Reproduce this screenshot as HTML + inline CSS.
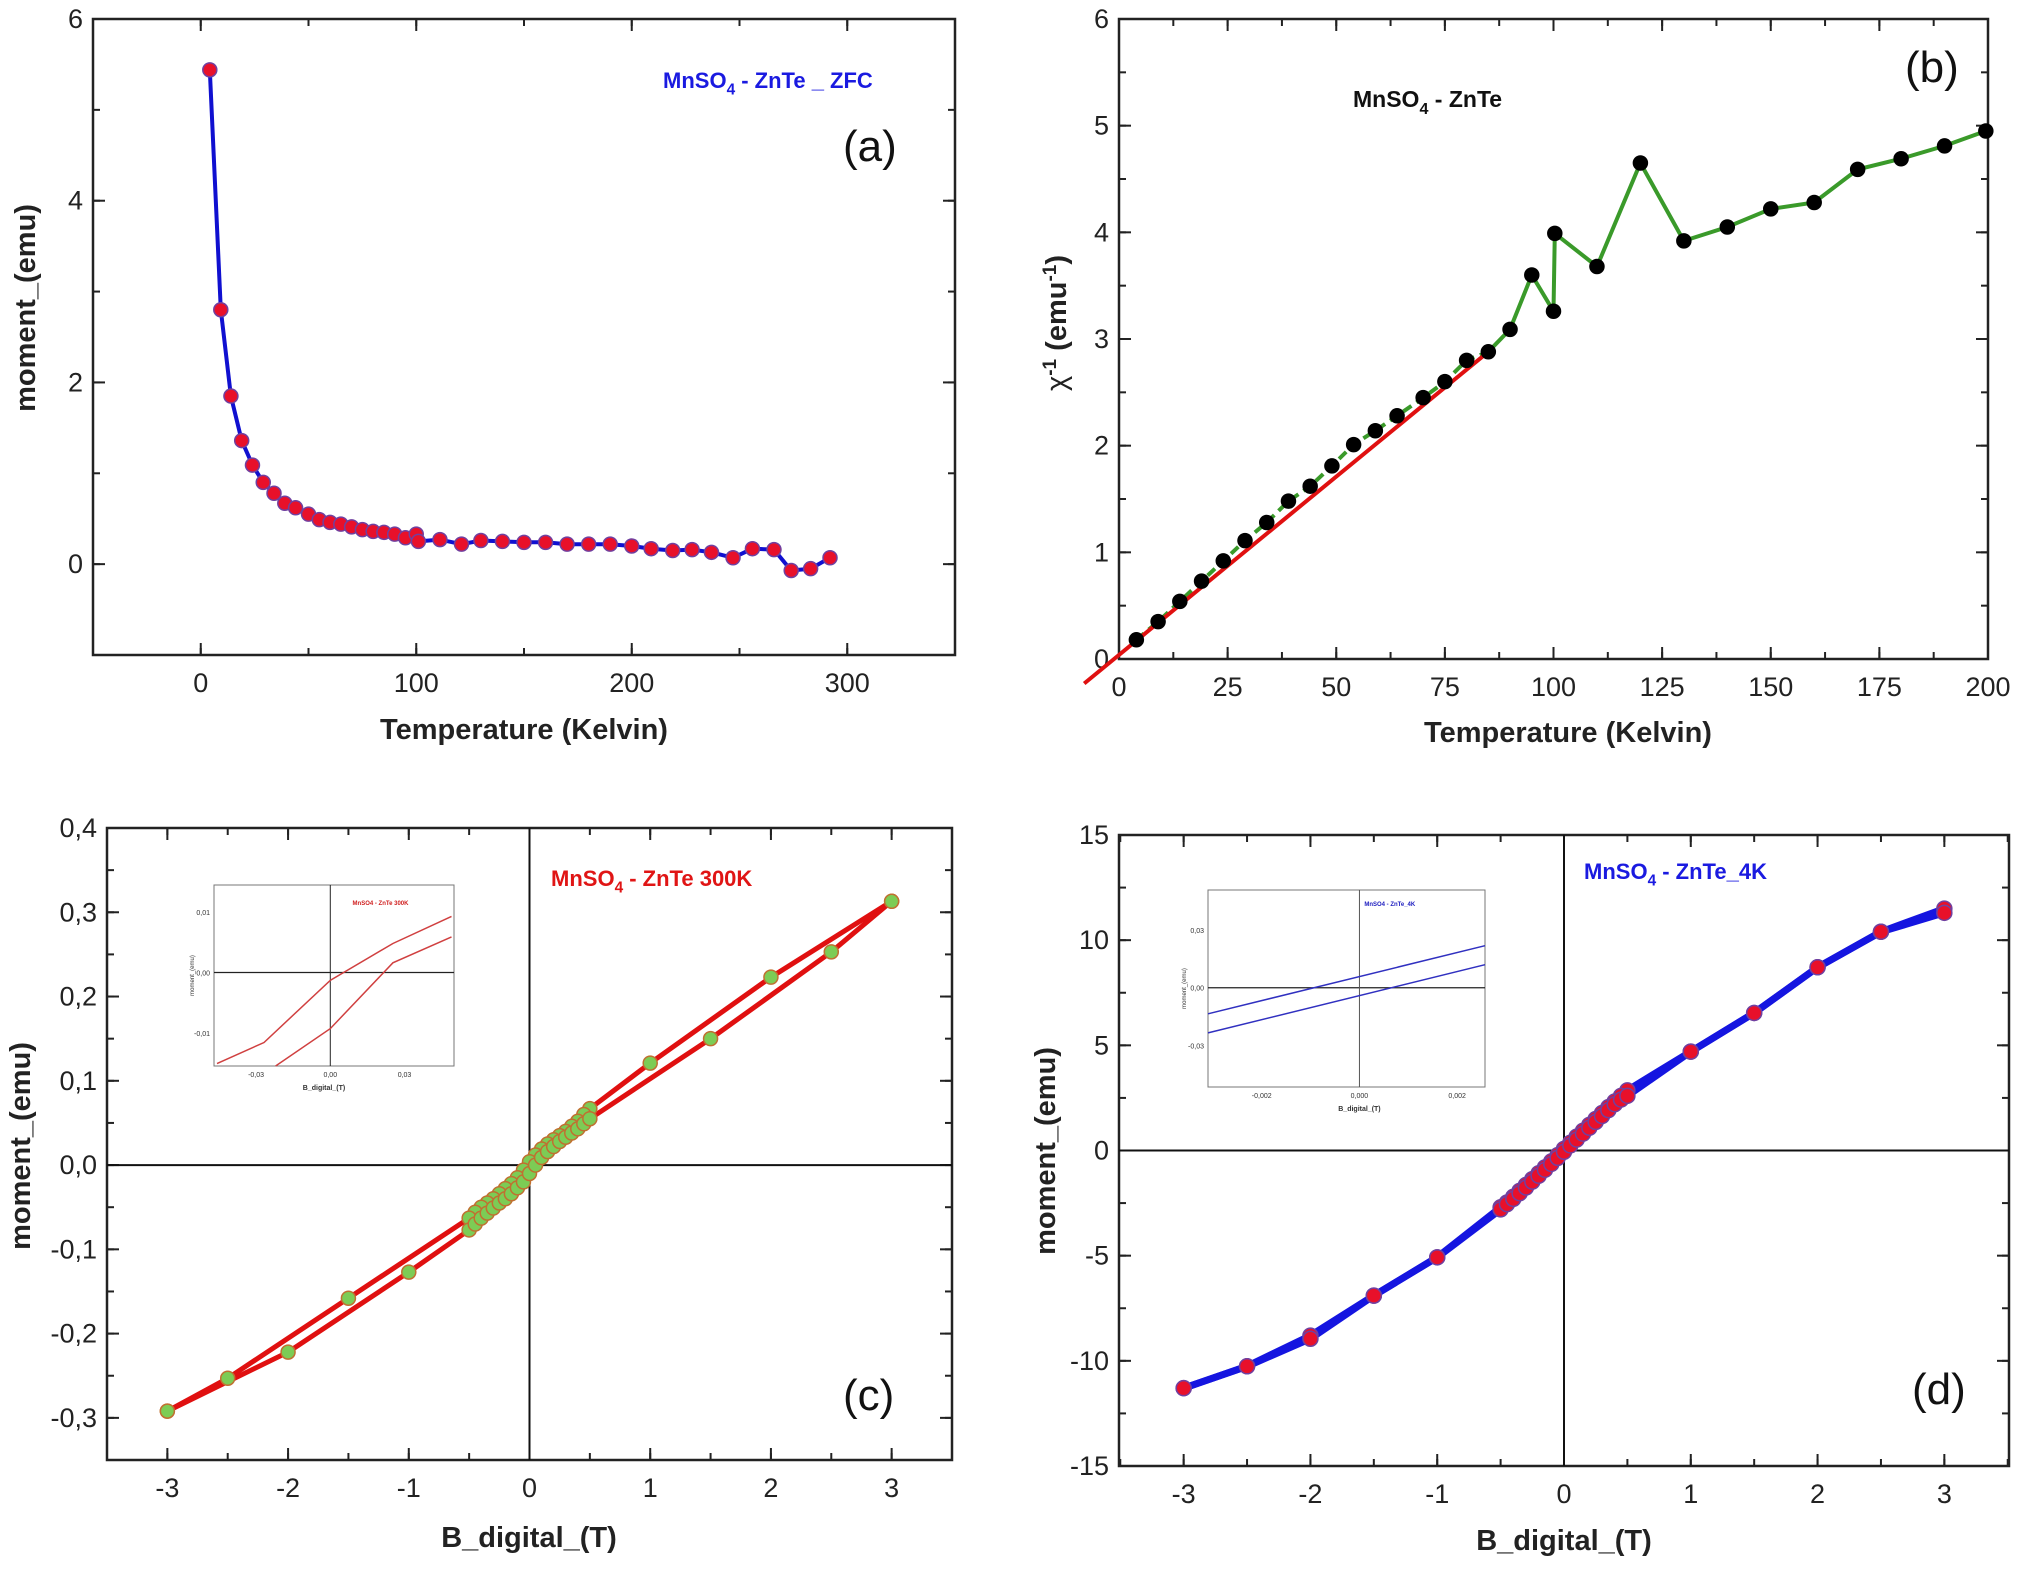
<!DOCTYPE html>
<html><head><meta charset="utf-8"><style>
html,body{margin:0;padding:0;background:#fff;}
svg{display:block;font-family:"Liberation Sans",Arial,sans-serif;}
</style></head><body>
<svg id="fig" width="2034" height="1575" viewBox="0 0 2034 1575" xmlns="http://www.w3.org/2000/svg"></svg>
<script>
// ---- Panel (a) data ----
const aT=[4.2,9.3,14,19,24,29,34,39,44,50,55,60,65,70,75,80,85,90,95,100,101,111,121,130,140,150,160,170,180,190,200,209,219,228,237,247,256,266,274,283,292];
const aM=[5.44,2.8,1.85,1.36,1.09,0.9,0.78,0.67,0.62,0.55,0.49,0.46,0.44,0.41,0.38,0.36,0.35,0.33,0.29,0.33,0.25,0.27,0.22,0.26,0.25,0.24,0.24,0.22,0.22,0.22,0.2,0.17,0.15,0.16,0.13,0.07,0.17,0.16,-0.07,-0.05,0.07];
const aXTicks=[0,100,200,300];
const aYTicks=[0,2,4,6];
// ---- Panel (b) data ----
const bT=[4,9,14,19,24,29,34,39,44,49,54,59,64,70,75,80,85,90,95,100,100.3,110,120,130,140,150,160,170,180,190,199.5];
const bChi=[0.18,0.35,0.54,0.73,0.92,1.11,1.28,1.48,1.62,1.81,2.01,2.14,2.28,2.45,2.6,2.8,2.88,3.09,3.6,3.26,3.99,3.68,4.65,3.92,4.05,4.22,4.28,4.59,4.69,4.81,4.95];
const bFitT=[-8,85];
const bFitChi=[-0.23,2.88];
const bXTicks=[0,25,50,75,100,125,150,175,200];
const bYTicks=[0,1,2,3,4,5,6];
// ---- Panel (c) data ----
const cDescB=[3,2,1,0.5,0.45,0.4,0.35,0.3,0.25,0.2,0.15,0.1,0.05,0,-0.05,-0.1,-0.15,-0.2,-0.25,-0.3,-0.35,-0.4,-0.45,-0.5,-1.5,-2.5,-3];
const cDescM=[0.313,0.223,0.121,0.067,0.060,0.052,0.046,0.040,0.035,0.030,0.025,0.019,0.012,0.004,-0.006,-0.015,-0.022,-0.028,-0.034,-0.040,-0.045,-0.050,-0.056,-0.063,-0.158,-0.253,-0.292];
const cAscB=[-3,-2,-1,-0.5,-0.45,-0.4,-0.35,-0.3,-0.25,-0.2,-0.15,-0.1,-0.05,0,0.05,0.1,0.15,0.2,0.25,0.3,0.35,0.4,0.45,0.5,1.5,2.5,3];
const cAscM=[-0.292,-0.222,-0.127,-0.077,-0.070,-0.063,-0.057,-0.051,-0.045,-0.040,-0.034,-0.027,-0.020,-0.010,0.000,0.009,0.016,0.022,0.028,0.033,0.038,0.043,0.049,0.055,0.150,0.253,0.313];
const cXTicks=[-3,-2,-1,0,1,2,3];
const cYTicks=[-0.3,-0.2,-0.1,0,0.1,0.2,0.3,0.4];
const cInUpB=[-0.0458,-0.0268,0,0.0253,0.049];
const cInUpM=[-0.0151,-0.0116,-0.0013,0.0048,0.0093];
const cInLoB=[-0.0221,0,0.0253,0.049];
const cInLoM=[-0.0155,-0.0093,0.0016,0.0059];
// ---- Panel (d) data ----
const dDescB=[3,2.5,2,1.5,1,0.5,0.45,0.4,0.35,0.3,0.25,0.2,0.15,0.1,0.05,0,-0.05,-0.1,-0.15,-0.2,-0.25,-0.3,-0.35,-0.4,-0.45,-0.5,-1,-1.5,-2,-2.5,-3];
const dDescM=[11.5,10.4,8.71,6.54,4.7,2.86,2.6,2.33,2.06,1.78,1.5,1.22,0.94,0.66,0.37,0.08,-0.22,-0.52,-0.8,-1.08,-1.36,-1.64,-1.92,-2.2,-2.47,-2.7,-5.08,-6.9,-8.8,-10.26,-11.3];
const dAscB=[-3,-2.5,-2,-1.5,-1,-0.5,-0.45,-0.4,-0.35,-0.3,-0.25,-0.2,-0.15,-0.1,-0.05,0,0.05,0.1,0.15,0.2,0.25,0.3,0.35,0.4,0.45,0.5,1,1.5,2,2.5,3];
const dAscM=[-11.3,-10.26,-8.95,-6.9,-5.08,-2.8,-2.55,-2.3,-2.03,-1.76,-1.48,-1.2,-0.92,-0.64,-0.35,-0.06,0.24,0.52,0.8,1.08,1.36,1.64,1.92,2.2,2.42,2.6,4.7,6.54,8.71,10.4,11.3];
const dXTicks=[-3,-2,-1,0,1,2,3];
const dYTicks=[-15,-10,-5,0,5,10,15];
const dInUpB=[-0.0031,0.00257];
const dInUpM=[-0.0136,0.0219];
const dInLoB=[-0.0031,0.00257];
const dInLoM=[-0.0235,0.0120];

const NS="http://www.w3.org/2000/svg";
const svg=document.getElementById('fig');
function mk(parent,tag,attrs,text){const e=document.createElementNS(NS,tag);for(const k in attrs)e.setAttribute(k,attrs[k]);if(text!==undefined)e.textContent=text;parent.appendChild(e);return e;}
function scale(d0,d1,p0,p1){return v=>p0+(v-d0)/(d1-d0)*(p1-p0);}
function fmt(v,dec,comma){let s=v.toFixed(dec);if(comma)s=s.replace('.',',');return s;}

function panel(o){
  const g=mk(svg,'g',{});
  
  
  const X=scale(o.xr[0],o.xr[1],o.L,o.R), Y=scale(o.yr[0],o.yr[1],o.B,o.T);
  const fr=mk(g,'rect',{x:o.L,y:o.T,width:o.R-o.L,height:o.B-o.T,fill:'none',stroke:'#222','stroke-width':2.5});
  
  
  const tl=12, ml=7;
  o.xt.forEach(v=>{const x=X(v);
    mk(g,'line',{x1:x,x2:x,y1:o.B,y2:o.B-tl,stroke:'#222','stroke-width':2});
    mk(g,'line',{x1:x,x2:x,y1:o.T,y2:o.T+tl,stroke:'#222','stroke-width':2});
    const t=mk(g,'text',{x:x,y:o.B+37,'text-anchor':'middle','font-size':27,fill:'#222'},fmt(v,o.xdec||0,o.comma));
    
    
  });
  const xs=o.xt[1]-o.xt[0];
  for(let v=o.xt[0]-xs/2; v<=o.xr[1]; v+=xs/2){ if(v<o.xr[0])continue; const x=X(v);
    mk(g,'line',{x1:x,x2:x,y1:o.B,y2:o.B-ml,stroke:'#222','stroke-width':2});
    mk(g,'line',{x1:x,x2:x,y1:o.T,y2:o.T+ml,stroke:'#222','stroke-width':2});}
  o.yt.forEach(v=>{const y=Y(v);
    mk(g,'line',{x1:o.L,x2:o.L+tl,y1:y,y2:y,stroke:'#222','stroke-width':2});
    mk(g,'line',{x1:o.R,x2:o.R-tl,y1:y,y2:y,stroke:'#222','stroke-width':2});
    const t=mk(g,'text',{x:o.L-10,y:y+9,'text-anchor':'end','font-size':27,fill:'#222'},fmt(v,o.ydec||0,o.comma));
    
    
  });
  const ys=o.yt[1]-o.yt[0];
  for(let v=o.yt[0]-ys/2; v<=o.yr[1]; v+=ys/2){ if(v<o.yr[0])continue; const y=Y(v);
    mk(g,'line',{x1:o.L,x2:o.L+ml,y1:y,y2:y,stroke:'#222','stroke-width':2});
    mk(g,'line',{x1:o.R,x2:o.R-ml,y1:y,y2:y,stroke:'#222','stroke-width':2});}
  const xt=mk(g,'text',{x:o.xtx,y:o.xty,'text-anchor':'middle','font-size':29,'font-weight':'bold',fill:'#222'},o.xtitle);
  
  
  const yt=mk(g,'text',{transform:`translate(${o.ytx},${o.yty}) rotate(-90)`,'text-anchor':'middle','font-size':29,'font-weight':'bold',fill:'#222'});
  
  
  o.ytitle(yt);
  return {g,X,Y};
}
function path(g,X,Y,xs,ys,attrs){let d='';xs.forEach((x,i)=>{d+=(i?'L':'M')+X(x).toFixed(1)+','+Y(ys[i]).toFixed(1);});return mk(g,'path',Object.assign({d:d,fill:'none'},attrs));}
function dots(g,X,Y,xs,ys,r,fill,stroke,name){xs.forEach((x,i)=>{const c=mk(g,'circle',{cx:X(x),cy:Y(ys[i]),r:r,fill:fill,stroke:stroke,'stroke-width':1.5});
  
  });}
function label(g,x,y,txt,size,color,name,sub,after,weight){
  const t=mk(g,'text',{x:x,y:y,'font-size':size,'font-weight':weight||'bold',fill:color});
  
  
  mk(t,'tspan',{},txt);
  if(sub){mk(t,'tspan',{dy:size*0.3,'font-size':size*0.7},sub);mk(t,'tspan',{dy:-size*0.3},after);}
  return t;
}

// ===== Panel (a) =====
(function(){
 const p=panel({name:'panel-a',L:93,R:955,T:19,B:655,xr:[-50,350],yr:[-1,6],xt:aXTicks,yt:aYTicks,
  xtitle:'Temperature (Kelvin)',xtx:524,xty:739,ytx:35,yty:308,ytitle:t=>{t.textContent='moment_(emu)';}});
 const l=path(p.g,p.X,p.Y,aT,aM,{stroke:'#1010d0','stroke-width':4});
 
 
 dots(p.g,p.X,p.Y,aT,aM,7,'#e8102a','#7040a0','zfc-point');
 label(p.g,663,88,'MnSO',22,'#1a1ae0','legend-zfc','4',' - ZnTe _ ZFC');
 label(p.g,843,161,'(a)',44,'#111','panel-label-a',null,null,'normal');
})();

// ===== Panel (b) =====
(function(){
 const p=panel({name:'panel-b',L:1119,R:1988,T:19,B:659,xr:[0,200],yr:[0,6],xt:bXTicks,yt:bYTicks,
  xtitle:'Temperature (Kelvin)',xtx:1568,xty:742,ytx:1066,yty:323,ytitle:t=>{
   mk(t,'tspan',{'font-weight':'normal'},'χ');mk(t,'tspan',{dy:-10,'font-size':19},'-1');mk(t,'tspan',{dy:10},' (emu');mk(t,'tspan',{dy:-10,'font-size':19},'-1');mk(t,'tspan',{dy:10},')');}});
 const n=17;
 const l1=path(p.g,p.X,p.Y,bT.slice(0,n),bChi.slice(0,n),{stroke:'#3a9a2a','stroke-width':4,'stroke-dasharray':'10,6'});
 
 
 const l2=path(p.g,p.X,p.Y,bT.slice(n-1),bChi.slice(n-1),{stroke:'#3a9a2a','stroke-width':4});
 
 
 const f=path(p.g,p.X,p.Y,bFitT,bFitChi,{stroke:'#e01010','stroke-width':4});
 
 
 dots(p.g,p.X,p.Y,bT,bChi,7,'#000','#000','chi-point');
 label(p.g,1353,107,'MnSO',23,'#111','legend-b','4',' - ZnTe');
 label(p.g,1905,82,'(b)',44,'#111','panel-label-b',null,null,'normal');
})();

// ===== Panel (c) =====
(function(){
 const p=panel({name:'panel-c',L:107,R:952,T:828,B:1460,xr:[-3.5,3.5],yr:[-0.35,0.4],xt:cXTicks,yt:cYTicks,ydec:1,comma:true,
  xtitle:'B_digital_(T)',xtx:529,xty:1547,ytx:30,yty:1146,ytitle:t=>{t.textContent='moment_(emu)';}});
 mk(p.g,'line',{x1:p.X(-3.5),x2:p.X(3.5),y1:p.Y(0),y2:p.Y(0),stroke:'#111','stroke-width':2});
 mk(p.g,'line',{x1:p.X(0),x2:p.X(0),y1:p.Y(0.4),y2:p.Y(-0.35),stroke:'#111','stroke-width':2});
 const l1=path(p.g,p.X,p.Y,cDescB,cDescM,{stroke:'#e01010','stroke-width':5});
 
 
 const l2=path(p.g,p.X,p.Y,cAscB,cAscM,{stroke:'#e01010','stroke-width':5});
 
 
 dots(p.g,p.X,p.Y,cDescB,cDescM,7,'#7ccc55','#c07030','hysteresis-point');
 dots(p.g,p.X,p.Y,cAscB,cAscM,7,'#7ccc55','#c07030','hysteresis-point');
 label(p.g,551,886,'MnSO',22,'#e01515','legend-300k','4',' - ZnTe 300K');
 label(p.g,843,1410,'(c)',44,'#111','panel-label-c',null,null,'normal');
 const ig=mk(p.g,'g',{});
 
 
 const L=214,R=454,T=885,B=1066;
 const IX=scale(-0.047,0.05,L,R), IY=scale(-0.0155,0.0145,B,T);
 mk(ig,'rect',{x:L,y:T,width:R-L,height:B-T,fill:'#fff',stroke:'#777','stroke-width':1});
 mk(ig,'line',{x1:L,x2:R,y1:IY(0),y2:IY(0),stroke:'#222','stroke-width':1.2});
 mk(ig,'line',{x1:IX(0),x2:IX(0),y1:T,y2:B,stroke:'#222','stroke-width':1});
 [-0.03,0,0.03].forEach(v=>{mk(ig,'text',{x:IX(v),y:B+11,'text-anchor':'middle','font-size':7,fill:'#333'},fmt(v,2,true));});
 [-0.01,0,0.01].forEach(v=>{mk(ig,'text',{x:L-4,y:IY(v)+3,'text-anchor':'end','font-size':7,fill:'#333'},fmt(v,2,true));});
 mk(ig,'text',{x:(L+R)/2-10,y:B+24,'text-anchor':'middle','font-size':7,'font-weight':'bold',fill:'#333'},'B_digital_(T)');
 mk(ig,'text',{transform:`translate(${L-20},${(T+B)/2}) rotate(-90)`,'text-anchor':'middle','font-size':6,fill:'#333'},'moment_(emu)');
 mk(ig,'text',{x:IX(0.009),y:T+20,'font-size':6,'font-weight':'bold',fill:'#d02020'},'MnSO4 - ZnTe 300K');
 path(ig,IX,IY,cInUpB,cInUpM,{stroke:'#d04040','stroke-width':1.5});
 path(ig,IX,IY,cInLoB,cInLoM,{stroke:'#d04040','stroke-width':1.5});
})();

// ===== Panel (d) =====
(function(){
 const p=panel({name:'panel-d',L:1119,R:2009,T:835,B:1466,xr:[-3.51,3.51],yr:[-15,15],xt:dXTicks,yt:dYTicks,
  xtitle:'B_digital_(T)',xtx:1564,xty:1550,ytx:1055,yty:1151,ytitle:t=>{t.textContent='moment_(emu)';}});
 mk(p.g,'line',{x1:p.X(-3.51),x2:p.X(3.51),y1:p.Y(0),y2:p.Y(0),stroke:'#111','stroke-width':2});
 mk(p.g,'line',{x1:p.X(0),x2:p.X(0),y1:p.Y(15),y2:p.Y(-15),stroke:'#111','stroke-width':2});
 const l1=path(p.g,p.X,p.Y,dDescB,dDescM,{stroke:'#1515e0','stroke-width':7});
 
 
 const l2=path(p.g,p.X,p.Y,dAscB,dAscM,{stroke:'#1515e0','stroke-width':7});
 
 
 dots(p.g,p.X,p.Y,dDescB,dDescM,7.5,'#e8102a','#7040a0','hysteresis-point');
 dots(p.g,p.X,p.Y,dAscB,dAscM,7.5,'#e8102a','#7040a0','hysteresis-point');
 label(p.g,1584,879,'MnSO',22,'#1a1ae0','legend-4k','4',' - ZnTe_4K');
 label(p.g,1912,1404,'(d)',44,'#111','panel-label-d',null,null,'normal');
 const ig=mk(p.g,'g',{});
 
 
 const L=1208,R=1485,T=890,B=1087;
 const IX=scale(-0.0031,0.00257,L,R), IY=scale(-0.0517,0.0509,B,T);
 mk(ig,'rect',{x:L,y:T,width:R-L,height:B-T,fill:'#fff',stroke:'#777','stroke-width':1});
 mk(ig,'line',{x1:L,x2:R,y1:IY(0),y2:IY(0),stroke:'#222','stroke-width':1.2});
 mk(ig,'line',{x1:IX(0),x2:IX(0),y1:T,y2:B,stroke:'#555','stroke-width':1});
 [-0.002,0,0.002].forEach(v=>{mk(ig,'text',{x:IX(v),y:B+11,'text-anchor':'middle','font-size':7,fill:'#333'},fmt(v,3,true));});
 [-0.03,0,0.03].forEach(v=>{mk(ig,'text',{x:L-4,y:IY(v)+3,'text-anchor':'end','font-size':7,fill:'#333'},fmt(v,2,true));});
 mk(ig,'text',{x:IX(0),y:B+24,'text-anchor':'middle','font-size':7,'font-weight':'bold',fill:'#333'},'B_digital_(T)');
 mk(ig,'text',{transform:`translate(${L-22},${(T+B)/2}) rotate(-90)`,'text-anchor':'middle','font-size':6,fill:'#333'},'moment_(emu)');
 mk(ig,'text',{x:IX(0.0001),y:T+16,'font-size':6,'font-weight':'bold',fill:'#2020c0'},'MnSO4 - ZnTe_4K');
 path(ig,IX,IY,dInUpB,dInUpM,{stroke:'#3030c0','stroke-width':1.5});
 path(ig,IX,IY,dInLoB,dInLoM,{stroke:'#3030c0','stroke-width':1.5});
})();
</script>
</body></html>
